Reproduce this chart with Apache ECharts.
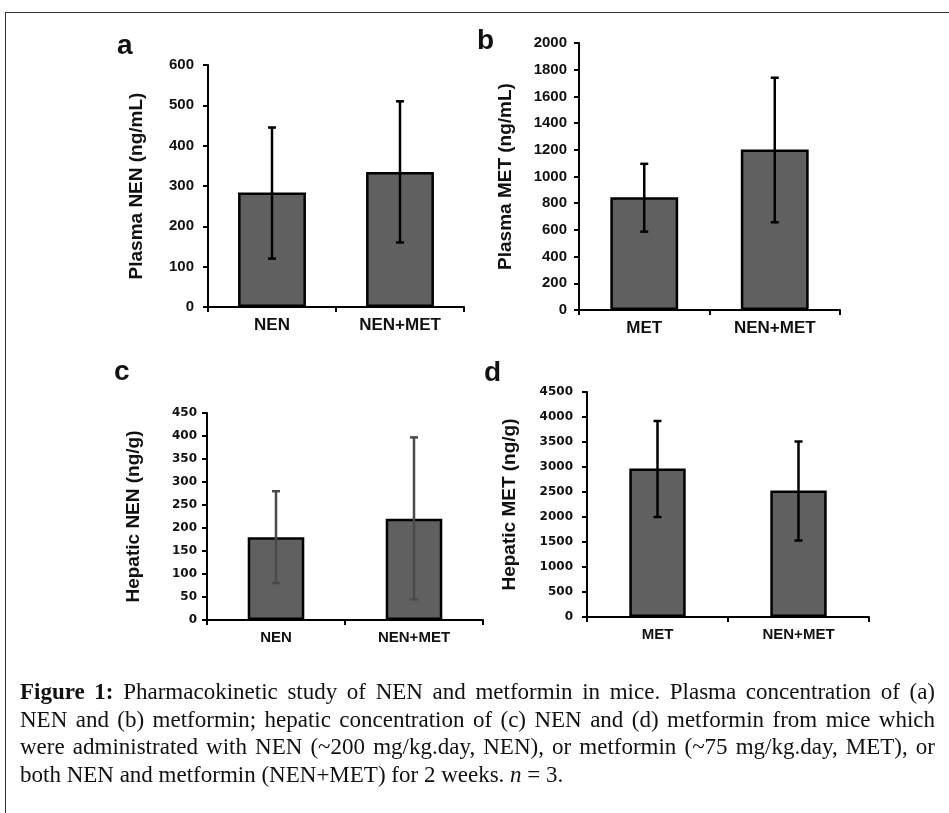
<!DOCTYPE html>
<html>
<head>
<meta charset="utf-8">
<script src="https://cdn.jsdelivr.net/npm/echarts@6/dist/echarts.min.js"></script>
<style>
  html, body { margin:0; padding:0; background:#fff; }
  #wrap { position:relative; width:949px; height:813px; overflow:hidden; background:#fff; }
  #chart { position:absolute; left:0; top:0; width:949px; height:813px; }
  #frame { position:absolute; left:5px; top:12px; width:960px; height:820px; border-top:1.5px solid #333; border-left:1.5px solid #333; }
  #caption { position:absolute; left:20px; top:678px; width:915px; font-family:"Liberation Serif","Times New Roman",serif; font-size:23px; line-height:27.5px; color:#111; }
  #caption div { text-align:justify; text-align-last:justify; white-space:nowrap; }
  #caption div.last { text-align-last:left; }
</style>
</head>
<body>
<div id="wrap">
  <div id="frame"></div>
  <div id="chart"></div>
  <div id="caption">
    <div><b>Figure 1:</b> Pharmacokinetic study of NEN and metformin in mice. Plasma concentration of (a)</div>
    <div>NEN and (b) metformin; hepatic concentration of (c) NEN and (d) metformin from mice which</div>
    <div>were administrated with NEN (~200 mg/kg.day, NEN), or metformin (~75 mg/kg.day, MET), or</div>
    <div class="last">both NEN and metformin (NEN+MET) for 2 weeks. <i>n</i> = 3.</div>
  </div>
</div>
<script>
// ---- data ----
const catsA = ['NEN', 'NEN+MET'];
const valsA = [284, 335];
const errHiA = [445, 510];
const errLoA = [120, 160];

const catsB = ['MET', 'NEN+MET'];
const valsB = [845, 1202];
const errHiB = [1095, 1740];
const errLoB = [587, 657];

const catsC = ['NEN', 'NEN+MET'];
const valsC = [180, 220];
const errHiC = [280, 397];
const errLoC = [80, 45];

const catsD = ['MET', 'NEN+MET'];
const valsD = [2970, 2530];
const errHiD = [3920, 3510];
const errLoD = [2000, 1530];

const yMax = [600, 2000, 450, 4500];
const yStep = [100, 200, 50, 500];
const yNames = ['Plasma NEN (ng/mL)', 'Plasma MET (ng/mL)', 'Hepatic NEN (ng/g)', 'Hepatic MET (ng/g)'];
const panelLetters = ['a', 'b', 'c', 'd'];

// ---- layout ----
const panels = [
  {cats: catsA, vals: valsA, hi: errHiA, lo: errLoA, grid: {left: 208, top: 65, width: 256, height: 242}, barW: '53%', tickFont: 'Liberation Sans', tickSize: 15, tickMargin: 14, xFont: 17, nameGap: 62, errColor: '#000', errW: 2.5, letter: [117, 32]},
  {cats: catsB, vals: valsB, hi: errHiB, lo: errLoB, grid: {left: 579, top: 43, width: 261, height: 267}, barW: '52%', tickFont: 'Liberation Sans', tickSize: 15, tickMargin: 12, xFont: 17, nameGap: 64, errColor: '#000', errW: 2.5, letter: [477, 27]},
  {cats: catsC, vals: valsC, hi: errHiC, lo: errLoC, grid: {left: 207, top: 413, width: 276, height: 207}, barW: '41%', tickFont: 'DejaVu Sans', tickSize: 12, tickMargin: 10, xFont: 15, nameGap: 64, errColor: '#4a4a4a', errW: 2.5, letter: [114, 358]},
  {cats: catsD, vals: valsD, hi: errHiD, lo: errLoD, grid: {left: 587, top: 392, width: 282, height: 225}, barW: '40%', tickFont: 'DejaVu Sans', tickSize: 12, tickMargin: 14, xFont: 15, nameGap: 68, errColor: '#000', errW: 2.5, letter: [484, 359]}
];

const grids = [], xAxes = [], yAxes = [], series = [], graphics = [];
panels.forEach((p, i) => {
  grids.push(Object.assign({containLabel: false}, p.grid));
  xAxes.push({
    type: 'category', gridIndex: i, data: p.cats,
    axisLine: {lineStyle: {color: '#000', width: 2}},
    axisTick: {show: true, length: 5, lineStyle: {color: '#000', width: 2}},
    axisLabel: {color: '#111', fontFamily: 'Liberation Sans', fontWeight: 'bold', fontSize: p.xFont, margin: 10},
    splitLine: {show: false}
  });
  yAxes.push({
    type: 'value', gridIndex: i, min: 0, max: yMax[i], interval: yStep[i],
    name: yNames[i], nameLocation: 'middle', nameGap: p.nameGap, nameRotate: 90,
    nameTextStyle: {fontFamily: 'Liberation Sans', fontWeight: 'bold', fontSize: 19, color: '#111'},
    axisLine: {show: true, lineStyle: {color: '#000', width: 2}},
    axisTick: {show: true, length: 5, lineStyle: {color: '#000', width: 2}},
    axisLabel: {color: '#111', fontFamily: p.tickFont, fontWeight: 'bold', fontSize: p.tickSize, margin: p.tickMargin, formatter: v => String(v)},
    splitLine: {show: false}
  });
  series.push({
    type: 'bar', xAxisIndex: i, yAxisIndex: i, data: p.vals, barWidth: p.barW,
    itemStyle: {color: '#606060', borderColor: '#000', borderWidth: 2.5},
    z: 2
  });
  const errData = p.cats.map((c, k) => [k, p.lo[k], p.hi[k]]);
  series.push({
    type: 'custom', xAxisIndex: i, yAxisIndex: i, data: errData, z: 5,
    renderItem: (params, api) => {
      const x = api.value(0);
      const pLo = api.coord([x, api.value(1)]);
      const pHi = api.coord([x, api.value(2)]);
      const cap = 4;
      const st = {stroke: p.errColor, lineWidth: p.errW};
      return {type: 'group', children: [
        {type: 'line', shape: {x1: pLo[0], y1: pLo[1], x2: pHi[0], y2: pHi[1]}, style: st},
        {type: 'line', shape: {x1: pHi[0] - cap, y1: pHi[1], x2: pHi[0] + cap, y2: pHi[1]}, style: st},
        {type: 'line', shape: {x1: pLo[0] - cap, y1: pLo[1], x2: pLo[0] + cap, y2: pLo[1]}, style: st}
      ]};
    }
  });
  graphics.push({
    type: 'text', left: p.letter[0], top: p.letter[1],
    style: {text: panelLetters[i], fontFamily: 'Liberation Sans', fontWeight: 'bold', fontSize: 28, fill: '#111'}
  });
});

const chart = echarts.init(document.getElementById('chart'), null, {renderer: 'canvas'});
chart.setOption({
  animation: false,
  backgroundColor: 'transparent',
  grid: grids, xAxis: xAxes, yAxis: yAxes, series: series, graphic: graphics
});
</script>
</body>
</html>
